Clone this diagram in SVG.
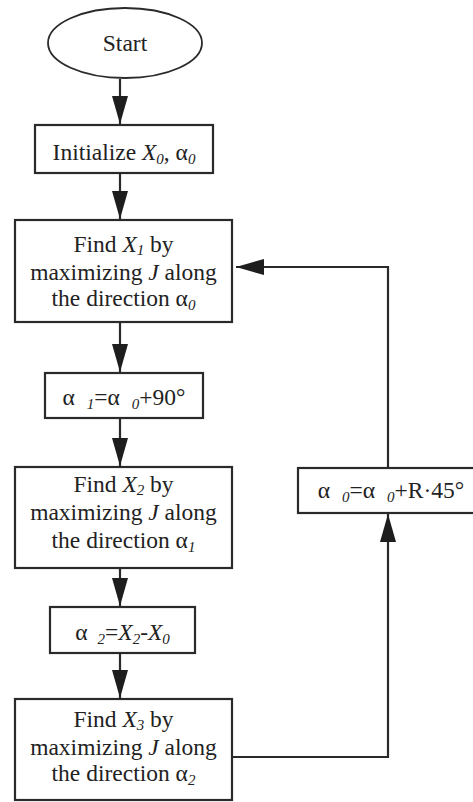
<svg xmlns="http://www.w3.org/2000/svg" width="473" height="802" viewBox="0 0 473 802">
<defs>
<marker id="ah" markerUnits="userSpaceOnUse" markerWidth="28" markerHeight="16" refX="28" refY="8" orient="auto">
<path d="M0,0 L28,8 L0,16 z" fill="#1e1e1e"/>
</marker>
<style>
.box{fill:#fff;stroke:#2a2a2a;stroke-width:2.2}
.t{font-family:"Liberation Serif","Times New Roman",serif;font-size:23.5px;fill:#222;text-anchor:middle}
.i{font-style:italic}
.s{font-style:italic;font-size:15px}
.c{fill:none;stroke:#2a2a2a;stroke-width:2.2}
</style>
</defs>
<rect width="473" height="802" fill="#fff"/>
<g id="connectors">
<line class="c" x1="120" y1="79" x2="120" y2="124" marker-end="url(#ah)"/>
<line class="c" x1="120" y1="173" x2="120" y2="219" marker-end="url(#ah)"/>
<line class="c" x1="120" y1="322" x2="120" y2="372" marker-end="url(#ah)"/>
<line class="c" x1="120" y1="418" x2="120" y2="466" marker-end="url(#ah)"/>
<line class="c" x1="120" y1="568" x2="120" y2="606" marker-end="url(#ah)"/>
<line class="c" x1="120" y1="653" x2="120" y2="698" marker-end="url(#ah)"/>
<polyline class="c" points="233,757 388,757 388,514" marker-end="url(#ah)"/>
<polyline class="c" points="388,468 388,267 236,267" marker-end="url(#ah)"/>
</g>
<g id="start">
<ellipse class="box" cx="125" cy="43" rx="77" ry="35" style="stroke-width:1.8"/>
<text class="t" x="125" y="51">Start</text>
</g>
<g id="init">
<rect class="box" x="35" y="125" width="178" height="48"/>
<text class="t" x="124" y="160">Initialize <tspan class="i">X</tspan><tspan class="s" dy="4">0</tspan><tspan dy="-4">, α</tspan><tspan class="s" dy="4">0</tspan></text>
</g>
<g id="find1">
<rect class="box" x="15" y="220" width="217" height="102"/>
<text class="t" x="123.5" y="252">Find <tspan class="i">X</tspan><tspan class="s" dy="3">1</tspan><tspan dy="-3"> by</tspan></text>
<text class="t" x="123.5" y="280">maximizing <tspan class="i">J</tspan> along</text>
<text class="t" x="123.5" y="306">the direction α<tspan class="s" dy="4">0</tspan></text>
</g>
<g id="alpha1">
<rect class="box" x="45" y="373" width="158" height="45"/>
<text class="t" x="124" y="405">α<tspan class="s" dx="12" dy="4">1</tspan><tspan dy="-4">=α</tspan><tspan class="s" dx="12" dy="4">0</tspan><tspan dy="-4">+90°</tspan></text>
</g>
<g id="find2">
<rect class="box" x="15" y="467" width="217" height="101"/>
<text class="t" x="123.5" y="492">Find <tspan class="i">X</tspan><tspan class="s" dy="3">2</tspan><tspan dy="-3"> by</tspan></text>
<text class="t" x="123.5" y="520">maximizing <tspan class="i">J</tspan> along</text>
<text class="t" x="123.5" y="548">the direction α<tspan class="s" dy="4">1</tspan></text>
</g>
<g id="alpha2">
<rect class="box" x="50" y="607" width="145" height="46"/>
<text class="t" x="122.5" y="640">α<tspan class="s" dx="10" dy="4">2</tspan><tspan dy="-4">=</tspan><tspan class="i">X</tspan><tspan class="s" dy="4">2</tspan><tspan dy="-4">-</tspan><tspan class="i">X</tspan><tspan class="s" dy="4">0</tspan></text>
</g>
<g id="find3">
<rect class="box" x="15" y="699" width="217" height="101"/>
<text class="t" x="123.5" y="727">Find <tspan class="i">X</tspan><tspan class="s" dy="3">3</tspan><tspan dy="-3"> by</tspan></text>
<text class="t" x="123.5" y="755">maximizing <tspan class="i">J</tspan> along</text>
<text class="t" x="123.5" y="781">the direction α<tspan class="s" dy="4">2</tspan></text>
</g>
<g id="alpha0">
<rect class="box" x="298" y="468" width="190" height="45"/>
<text class="t" x="391" y="498">α<tspan class="s" dx="12" dy="4">0</tspan><tspan dy="-4">=α</tspan><tspan class="s" dx="12" dy="4">0</tspan><tspan dy="-4">+R·45°</tspan></text>
</g>
</svg>
